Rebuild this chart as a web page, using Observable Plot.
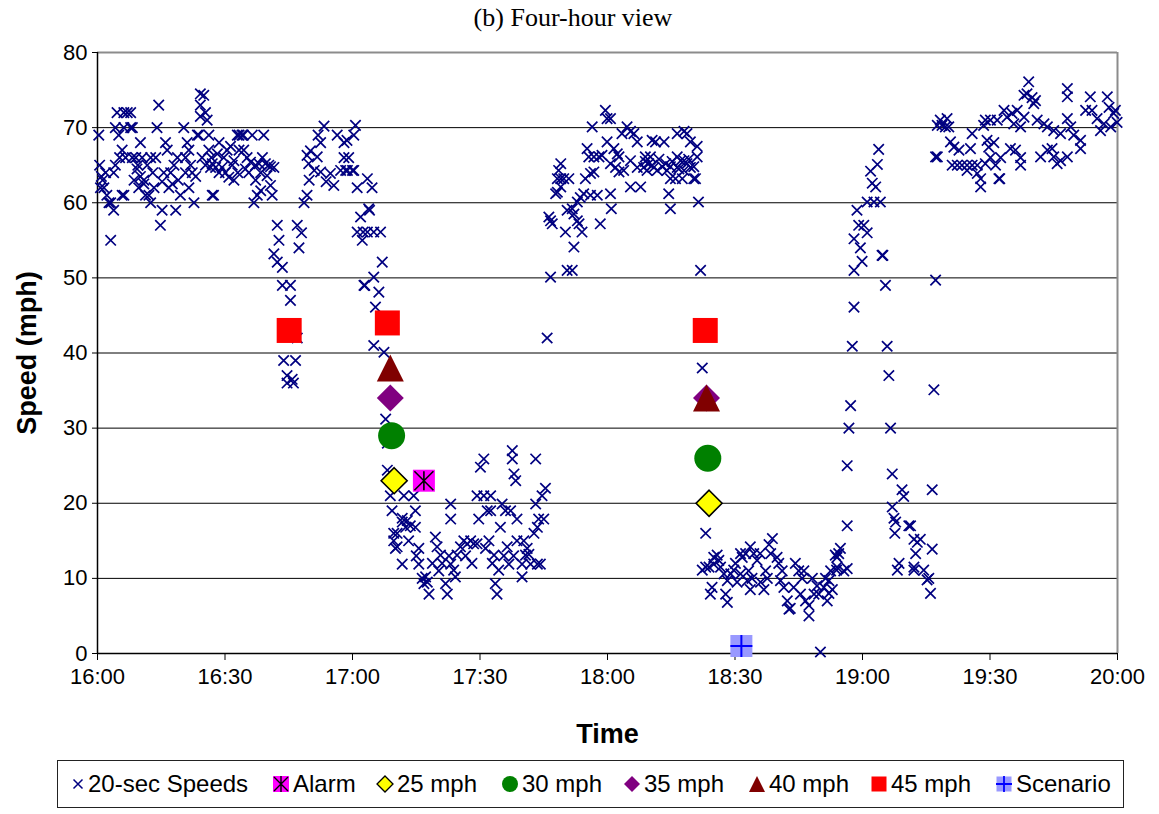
<!DOCTYPE html>
<html>
<head>
<meta charset="utf-8">
<script src="https://cdn.jsdelivr.net/npm/d3@7"></script>
<script src="https://cdn.jsdelivr.net/npm/@observablehq/plot@0.6"></script>
<style>
  html, body { margin: 0; padding: 0; background: #fff; }
  #wrap { position: relative; width: 1159px; height: 814px; overflow: hidden; background: #fff; }
  #title { position: absolute; top: 3px; left: 0; width: 1146px; text-align: center;
           font-family: "Liberation Serif", "Times New Roman", serif; font-size: 26px; color: #000; }
  #chart { position: absolute; top: 40px; left: 0; }
  #legend { position: absolute; left: 57px; top: 760px; width: 1067px; height: 48px;
            border: 1.5px solid #222; box-sizing: border-box; }
  .li { position: absolute; top: 0; height: 100%; display: flex; align-items: center;
        font-family: "Liberation Sans", Arial, sans-serif; font-size: 24px; color: #000; white-space: nowrap; }
  .li svg { margin-right: 3px; }
</style>
</head>
<body>
<div id="wrap">
  <div id="title"></div>
  <div id="chart"></div>
  <div id="legend"></div>
</div>
<script>
// ---------------- data ----------------
const chartTitle = "(b) Four-hour view";
const xTitle = "Time";
const yTitle = "Speed (mph)";
const xTickMinutes = [0, 30, 60, 90, 120, 150, 180, 210, 240];
const xTickLabels = ["16:00", "16:30", "17:00", "17:30", "18:00", "18:30", "19:00", "19:30", "20:00"];
const yTicks = [0, 10, 20, 30, 40, 50, 60, 70, 80];
const yGrid = [10, 20, 30, 40, 50, 60, 70];

// 20-sec speeds: [minutes after 16:00, mph]
const speeds20s = [
  [0.3,69],[0.5,65],[0.9,63.5],[0.7,62],[1.5,62],[1.9,64],[2.7,60],[3.1,60],[3.8,59],[3.1,55],
  [4.6,72],[4.2,70],[5.0,69],[5.8,67],[4.2,65],[3.8,64],[6.2,61],[5.8,61],[6.2,72],[7.0,72],[6.2,70],
  [7.8,72],[8.2,70],[7.8,70],[8.2,66],[9.0,66],[10.1,68],[9.3,64.5],[10.1,63.5],[10.9,63],[9.7,62],
  [10.9,62.5],[10.5,66],[11.3,61],[12.1,61],[12.5,60],[12.5,66],[13.7,66],[14.0,70],[14.4,73],[13.3,62],
  [1.2,63],[2.2,61],[5.2,66],[6.6,66],[8.6,63],[9.5,65],[11.7,65],[13.0,64],[15.6,64],[17.2,64],[19.0,63],
  [15.2,59],[14.8,57],[16.0,68],[16.4,67],[15.2,62.8],[16.8,62],[17.6,62.5],[18.4,59],[18.0,65],[18.8,66],
  [19.5,61],[20.3,70],[21.1,68],[21.5,67],[20.7,66],[21.9,65],[22.3,64],[20.7,64],[22.7,60],[23.1,63.5],
  [23.5,69],[23.8,69],[24.2,74.5],[25.0,74.3],[24.2,73],[25.4,72],[24.2,71.5],[25.8,71],[26.2,69],[26.2,67],
  [21.5,62],[24.6,66],[25.4,65],[26.8,66],[28.2,66.5],[29.7,66],[31.7,65],[33.0,64],[35.6,64],[37.2,65],[38.4,64],
  [27.0,65.2],[27.8,64.7],[26.6,64.7],[27.0,61],[27.3,61],[28.6,68],[28.6,64],[29.3,64.7],[30.1,64],[30.9,63.4],
  [30.5,67],[31.3,67.5],[32.1,63],[32.1,65.6],[32.9,69],[33.3,69],[34.0,69],[34.3,69],[33.3,67],[34.4,67],
  [34.8,64.5],[35.2,66],[36.4,69],[36.0,65.4],[36.8,60],[37.6,61],[38.4,61.6],[37.2,63],[38.0,65.2],[39.1,69],
  [38.8,66],[39.5,65.2],[40.3,65],[39.9,63.6],[40.7,62.3],[41.1,61],[40.7,64.8],[41.5,64.7],
  [42.3,57],[42.7,55],[41.5,53.2],[42.3,52.1],[43.5,51.4],[43.5,49],[45.4,49],[45.4,47],[43.8,39],[46.6,39],
  [44.6,37],[45.8,36.5],[44.6,36],[46.1,36],[47.0,42],[47.0,57],[48.0,56],[47.4,54],[48.6,60],[49.3,61],
  [49.3,66.3],[50.1,66.9],[51.7,66.1],[49.7,65.2],[51.0,64.3],[52.5,64.1],[49.8,63.0],[52.5,68],[53.3,70.2],
  [51.9,69],[53.8,62.8],[54.8,63.9],[55.6,62.3],[56.4,69],[58.0,68],[57.2,64.3],[58.8,64.3],
  [60.7,70.3],[60.3,69],[58.7,68.3],[58.0,66],[59.1,66],[58.4,64.3],[60.0,64.3],[60.3,64.3],[61.1,62],
  [63.5,63.2],[64.6,62],[63.8,59.2],[64.0,59],[61.9,58.1],[61.1,56.1],[62.5,56.1],[63.5,56.1],[65.0,56.1],
  [66.6,56.1],[62.3,55],[67.0,52.1],[65.0,50.1],[62.7,49],[62.9,49],[66.2,48.1],[65.4,46.1],[65.0,41],
  [67.4,40.1],[67.8,31.2],[68.2,28],[68.2,24.4],
  [68.9,21],[72.1,21],[74.4,21],[69.3,19],[74.8,19],[71.7,18],[72.9,17.7],[73.6,17],[74.8,16.8],[69.7,16],
  [70.5,16],[69.7,15],[70.5,14.2],[70.1,14],[71.7,11.9],[75.6,11.9],[75.6,14],[76.4,10],[77.2,10.2],[76.8,9.3],
  [77.6,9.5],[78,7.9],[79.5,15.5],[79.9,14.2],[80.7,13.1],[81.1,12],[81.9,9.3],[82.3,7.9],[83.1,19.9],[83.1,17.9],
  [83.1,11.9],[83.8,11.1],[84.2,10.2],[84.6,13.1],[85.4,14.2],[86.2,15],[87,14.6],[87.8,15],[88.5,14.6],[89.3,14.6],
  [90.1,24.8],[90.9,25.9],[89.3,21],[90.9,21],[92.5,21],[89.7,17.9],[91.7,19],[92.5,19],[92.1,15],[93.3,13.1],
  [93.6,9.3],[94,7.9],[94.4,11.1],[94.8,16.8],[95.2,19.9],[96,19],[97.2,19],[96.4,14.2],[96.8,11.9],[98.7,17.9],
  [98.7,15],[97.6,27],[97.6,25.9],[98,23.9],[98.4,23],[99.9,11.9],[99.9,10.2],[100.7,13.1],[101.5,13.2],
  [101.9,11.9],[103.5,11.9],[104.2,11.9],[102.7,16],[103.5,16.8],[103.8,17.9],[105,17.9],[103.1,25.9],
  [103.1,19.9],[104.6,21],[105.4,22],[71.7,17.5],[72.5,16.8],
  [73.2,15],[75,13],[78.8,12],[80.3,11],[82.7,13],[86.6,13],[88.1,12],[91.3,14],[92.9,12],[95.6,13],[97.9,13],[100.3,15],[101.1,14],
  [105.8,42],[106.6,50.1],[106.2,58.1],[107,57.2],[106.6,57.6],[107.8,61.2],[108.2,61.4],[109,62.1],[108.2,63.2],
  [109,63.2],[109.7,63.2],[110.9,63.2],[109,65.2],[108.5,64.3],[110.1,56.1],[110.5,51],[111.7,51],[112.1,54.1],
  [113.3,57.2],[114,56.1],[112.9,57.6],[110.5,59],[111.7,59.2],[112.1,58.5],[112.9,60.1],[114.4,61.2],[116,61],
  [117.6,61],[120.7,61.2],[113.6,60.7],[114.8,63.2],[116,63.9],[116.8,64.1],[115.2,67.2],[115.6,66.1],[116.8,66.1],
  [118,66.1],[118.7,66.3],[116.4,70.1],[118.3,57.2],[119.5,72.3],[119.9,71.2],[120.7,71.2],[119.9,68.1],[120.9,59.2],
  [121.5,67.2],[122.3,66.5],[122.7,66.1],[120.7,65.2],[121.9,64.7],[122.7,64.1],[123.4,69.2],[124.6,70.1],[125.4,69.5],
  [126.2,69.2],[127,68.1],[123.8,64.3],[125.4,65.6],[127,64.7],[125.4,62.1],[127.8,62.1],[128.9,66.1],[129.7,65.2],
  [130.1,66.1],[130.9,64.7],[129.3,64.3],[128.5,64.7],[131.3,68.1],[133.3,68.1],[131.7,64.3],[132.9,64.8],[134,64.3],
  [134.8,64.8],[134.8,63.2],[136,63.2],[137.6,63.2],[134.4,61.2],[134.8,59.2],[136.4,69.2],[138,69.5],[138.7,69.2],
  [139.5,68.1],[141.1,67.5],[136.4,66.1],[137.2,65.6],[138,65.6],[138.7,65.2],[139.5,64.7],[136.4,64.7],[138,64.3],
  [140.3,63.2],[141.1,66.1],[141.4,60.1],[141.9,51],[128.9,65.5],[130.5,65.0],[132.1,65.8],[133.7,65.2],[135.2,65.5],
  [136.8,64.5],[139.1,65.8],[140.3,64.8],[130.5,68.3],[140.7,63.2],
  [142.3,38],[143.1,16],
  [142.3,11.1],[143.1,11.5],[143.9,11.5],[145,11.9],[145.8,13.1],[145,12.8],[144.6,8.8],[144.2,7.9],[146.6,11.5],
  [147.4,10.6],[148.2,9.7],[149,10.6],[149.7,11.1],[147.8,7.9],[148.2,6.8],[151.3,13.3],[152.5,13.3],[153.6,14.2],
  [151.7,12.8],[151.3,10.6],[152.9,9.7],[153.6,8.5],[155.2,12.4],[156,9.5],[156.8,8.5],[154.4,13.3],[155.9,13.3],
  [158,14.5],[158.8,15.3],[158.4,13.3],[159.9,12.8],[160.3,12],[160.7,9.7],[161.5,8.8],[162.3,7],[162.7,5.9],
  [163,6],[163.8,8.8],[165,11],[165.8,10],[165.4,7.9],[166.6,7],[167.4,6.4],[167.4,5],[168.6,7.9],[169.7,7.9],
  [170.1,0.2],[170.9,8.8],[171.7,7],[172.1,9.7],[172.5,11],[174,11.5],[174.4,13.3],[174.8,14],[174,12.8],[175.6,11],
  [176.4,17],[172.1,8],[172.9,8.5],[173.9,11.1],[176.4,11.3],[173.6,13.1],
  [146.2,12.4],[150.1,12],[150.5,9.5],[153.2,11],[154,10],[157.2,11],[157.6,10],[161.1,11],[164.2,12],[166.2,11],[168.2,10],[169.3,9],[171.3,10],
  [176.4,25],[176.8,30],[177.2,33],[177.6,40.9],[178,46.1],[178,51],[179.9,52.2],[178,55.2],[179.5,54],[179.1,57],
  [180.3,57],[181.1,56],[178.7,59],[181.1,60.1],[182.7,60.1],[184.2,60.1],[181.9,64.2],[182.3,62.6],[183.1,62.1],
  [183.5,65.1],[183.8,67.1],[184.6,53],[184.8,53],[185.4,49],[185.8,40.9],[186.2,37],[186.6,30],[187,23.9],
  [189.3,21.8],[189.7,20.9],[187,19.5],[187.8,17.5],[188.2,11.1],[192.1,11.1],[194.4,11.1],[190.9,17],[192.1,15.2],
  [193.6,15.2],[192.9,14.8],[195.2,9.8],[196,8],[196.4,13.9],[196.4,21.8],[196.8,35.1],[197.2,49.7],[197.2,66.1],
  [187.4,18],[187.6,16],[188.6,12],[191.3,17],[192.5,13.3],[192.1,11.5],[195.6,10],
  [197.6,70.3],[198.7,70.3],[199.5,70.1],[200.3,70.1],[198.3,71],[199.9,71.2],[197.6,66.1],[200.7,68.1],[201.5,67.4],
  [201.1,65],[202.3,65],[203.4,65],[204.6,65],[205.8,65],[207,65],[202.7,67],[205.4,67.2],[205.8,69.2],[204.6,64.3],
  [207,63.9],[207.8,63.2],[207.8,62.1],[208.9,65.2],[210.1,66],[211.3,65],[212.5,66],[209.3,68.3],[209.7,67.4],
  [210.9,68],[208.9,71],[210.1,71],[211.7,71],[208.5,70.3],[212.1,63.2],[212.3,63.2],[213.3,72.3],[214,71.4],
  [215.2,71.9],[214.8,67.2],[216,67],[217.2,66],[217.2,65],[215.6,70.5],[217.2,70.1],[216.4,72.3],[218,71.4],
  [218,74.3],[218.7,74.5],[219.9,74],[220.7,73.6],[220.3,73.2],[219.1,76.1],[221.1,71],[222.7,70.5],[223.5,70.1],
  [225,69.6],[226.6,69.2],[221.9,66.1],[223.5,67],[224.6,67.2],[225,66.1],[225.8,65.2],[226.6,65.6],[228.2,66.1],
  [228.2,75.2],[228.2,74.1],[228.2,71.2],[229,70.1],[229.7,69],[231.3,68.3],[231.3,67.2],[232.5,72.3],[233.6,74.1],
  [234,72.3],[235.2,71.2],[236,69.6],[236.8,70.5],[237.6,74.1],[238,72.7],[239.1,71.9],[238.4,70.1],[239.9,70.7],
  [239.5,72.3]
];

// detection markers: [minutes after 16:00, mph]
const alarm    = [[76.8, 23]];
const det25mph = [[69.8, 23], [143.9, 20]];
const det30mph = [[69.2, 29], [143.6, 26]];
const det35mph = [[68.9, 34], [143.3, 34]];
const det40mph = [[68.9, 38], [143.3, 34]];
const det45mph = [[45.1, 43], [68.2, 44], [143.0, 43]];
const scenario = [[151.5, 1]];

const legendLabels = ["20-sec Speeds", "Alarm", "25 mph", "30 mph", "35 mph", "40 mph", "45 mph", "Scenario"];

// ---------------- symbols ----------------
const half = s => Math.sqrt(s / Math.PI);
const symCross = {draw(c, s) { const h = half(s); c.moveTo(-h, -h); c.lineTo(h, h); c.moveTo(h, -h); c.lineTo(-h, h); }};
const symSquare = {draw(c, s) { const h = half(s); c.moveTo(-h, -h); c.lineTo(h, -h); c.lineTo(h, h); c.lineTo(-h, h); c.closePath(); }};
const symDiamond = {draw(c, s) { const h = half(s); c.moveTo(0, -h); c.lineTo(h, 0); c.lineTo(0, h); c.lineTo(-h, 0); c.closePath(); }};
const symTriangle = {draw(c, s) { const h = half(s); c.moveTo(0, -h); c.lineTo(h, h); c.lineTo(-h, h); c.closePath(); }};
const symPlus = {draw(c, s) { const h = half(s); c.moveTo(-h, 0); c.lineTo(h, 0); c.moveTo(0, -h); c.lineTo(0, h); }};
const symAsterisk = {draw(c, s) { const h = half(s); c.moveTo(-h, -h); c.lineTo(h, h); c.moveTo(h, -h); c.lineTo(-h, h); c.moveTo(0, -h); c.lineTo(0, h); }};

const X = d => d[0], Y = d => d[1];

// ---------------- chart ----------------
const W = 1159, H = 712;
const plot = Plot.plot({
  width: W, height: H,
  marginLeft: 97, marginRight: 42, marginTop: 12, marginBottom: 99,
  style: {fontFamily: "'Liberation Sans', Arial, sans-serif", fontSize: "22px", color: "#000", background: "transparent", overflow: "visible"},
  x: {domain: [0, 240], label: null},
  y: {domain: [0, 80], label: null},
  marks: [
    Plot.ruleY(yGrid, {stroke: "#000", strokeWidth: 1}),
    Plot.ruleY([80], {stroke: "#8c8c8c", strokeWidth: 2}),
    Plot.ruleX([240], {stroke: "#8c8c8c", strokeWidth: 2}),
    Plot.axisX({ticks: xTickMinutes, tickFormat: d => xTickLabels[xTickMinutes.indexOf(d)], tickSize: 7, tickPadding: 8, fontSize: 22, stroke: "#000", label: null}),
    Plot.axisY({ticks: yTicks, tickSize: 5, tickPadding: 5, fontSize: 22, stroke: "#000", label: null}),
    Plot.ruleX([0], {stroke: "#000", strokeWidth: 1.5}),
    Plot.ruleY([0], {stroke: "#000", strokeWidth: 1.5}),
    Plot.dot(speeds20s, {x: X, y: Y, symbol: symCross, r: 5.2, fill: "none", stroke: "#000080", strokeWidth: 1.7}),
    Plot.dot(alarm, {x: X, y: Y, symbol: symSquare, r: 11, fill: "#ff00ff", stroke: "none"}),
    Plot.dot(alarm, {x: X, y: Y, symbol: symAsterisk, r: 9.5, fill: "none", stroke: "#000", strokeWidth: 1.6}),
    Plot.dot(det25mph, {x: X, y: Y, symbol: symDiamond, r: 13, fill: "#ffff00", stroke: "#000", strokeWidth: 1.6}),
    Plot.dot(det30mph, {x: X, y: Y, symbol: "circle", r: 13.5, fill: "#008000", stroke: "none"}),
    Plot.dot(det35mph, {x: X, y: Y, symbol: symDiamond, r: 13.5, fill: "#800080", stroke: "none"}),
    Plot.dot(det40mph, {x: X, y: Y, symbol: symTriangle, r: 13.5, fill: "#800000", stroke: "none"}),
    Plot.dot(det45mph, {x: X, y: Y, symbol: symSquare, r: 12.5, fill: "#ff0000", stroke: "none"}),
    Plot.dot(scenario, {x: X, y: Y, symbol: symSquare, r: 11, fill: "#9999ff", stroke: "none"}),
    Plot.dot(scenario, {x: X, y: Y, symbol: symPlus, r: 11, fill: "none", stroke: "#0000ff", strokeWidth: 2}),
    Plot.text([yTitle], {frameAnchor: "left", dx: -70, rotate: -90, textAnchor: "middle", lineAnchor: "middle", fontSize: 27, fontWeight: "bold", fill: "#000"}),
    Plot.text([xTitle], {frameAnchor: "bottom", dy: 81, textAnchor: "middle", lineAnchor: "middle", fontSize: 27, fontWeight: "bold", fill: "#000"})
  ]
});
document.getElementById("chart").appendChild(plot);
document.getElementById("title").textContent = chartTitle;

// ---------------- legend ----------------
const legendIcons = [
  `<svg width="14" height="14" viewBox="-7 -7 14 14"><path d="M-4.5,-4.5L4.5,4.5M4.5,-4.5L-4.5,4.5" stroke="#000080" stroke-width="1.5" fill="none"/></svg>`,
  `<svg width="18" height="18" viewBox="-9 -9 18 18"><rect x="-8" y="-8" width="16" height="16" fill="#ff00ff"/><path d="M-7,-7L7,7M7,-7L-7,7M0,-8L0,8" stroke="#000" stroke-width="1.4"/></svg>`,
  `<svg width="18" height="18" viewBox="-9 -9 18 18"><path d="M0,-8L8,0L0,8L-8,0Z" fill="#ffff00" stroke="#000" stroke-width="1.3"/></svg>`,
  `<svg width="18" height="18" viewBox="-9 -9 18 18"><circle r="8" fill="#008000"/></svg>`,
  `<svg width="18" height="18" viewBox="-9 -9 18 18"><path d="M0,-8L8,0L0,8L-8,0Z" fill="#800080"/></svg>`,
  `<svg width="18" height="18" viewBox="-9 -9 18 18"><path d="M0,-8L8,8L-8,8Z" fill="#800000"/></svg>`,
  `<svg width="18" height="18" viewBox="-9 -9 18 18"><rect x="-7.5" y="-7.5" width="15" height="15" fill="#ff0000"/></svg>`,
  `<svg width="18" height="18" viewBox="-9 -9 18 18"><rect x="-7.5" y="-7.5" width="15" height="15" fill="#9999ff"/><path d="M-8,0L8,0M0,-8L0,8" stroke="#0000ff" stroke-width="1.8"/></svg>`
];
const legendLeft = [13, 214, 318, 443, 565, 690, 812, 937]; // px inside legend box
const legend = document.getElementById("legend");
legendLabels.forEach((lab, i) => {
  const el = document.createElement("div");
  el.className = "li";
  el.style.left = legendLeft[i] + "px";
  el.innerHTML = legendIcons[i] + "<span>" + lab + "</span>";
  legend.appendChild(el);
});
</script>
</body>
</html>
